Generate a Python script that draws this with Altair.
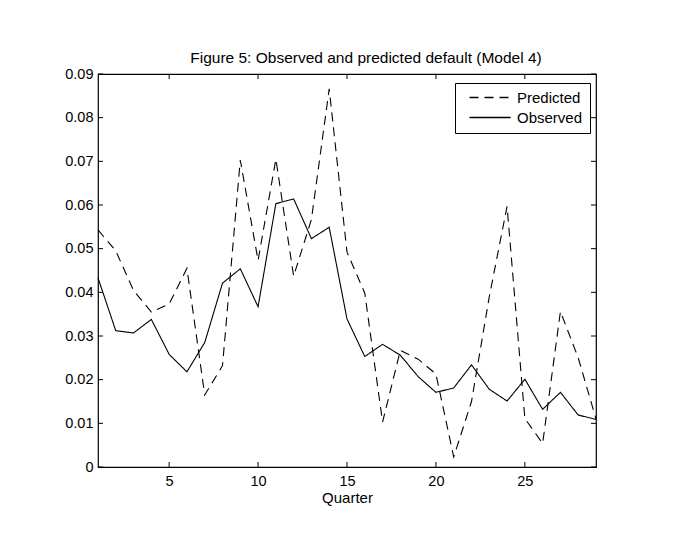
import altair as alt
import pandas as pd

quarters = list(range(1, 30))
observed = [0.0433, 0.0312, 0.0307, 0.0338, 0.0258, 0.0218, 0.0285, 0.0421, 0.0454, 0.0367,
            0.0603, 0.0614, 0.0523, 0.0549, 0.0339, 0.0253, 0.0281, 0.0256, 0.0207, 0.0171,
            0.0181, 0.0234, 0.0178, 0.0151, 0.0201, 0.0132, 0.0171, 0.0119, 0.0109]
predicted = [0.0543, 0.0495, 0.0404, 0.0355, 0.0373, 0.0455, 0.0165, 0.0232, 0.0703, 0.0473,
             0.0705, 0.0437, 0.0567, 0.0866, 0.0492, 0.0398, 0.0103, 0.0267, 0.0247, 0.0213,
             0.0023, 0.0150, 0.0390, 0.0597, 0.0111, 0.0054, 0.0356, 0.0250, 0.0110]
series_names = ["Predicted", "Observed"]
x_ticks = [5, 10, 15, 20, 25]
y_ticks = [0, 0.01, 0.02, 0.03, 0.04, 0.05, 0.06, 0.07, 0.08, 0.09]

W, H = 498, 393
TL = 5
FONT = "Liberation Sans"

df = pd.DataFrame({
    "Quarter": quarters * 2,
    "value": predicted + observed,
    "series": ["Predicted"] * len(quarters) + ["Observed"] * len(quarters),
})
xt = pd.DataFrame({"t": x_ticks})
yt = pd.DataFrame({"t": y_ticks})

xscale = alt.Scale(domain=[1, 29], nice=False, zero=False)
yscale = alt.Scale(domain=[0, 0.09], nice=False, zero=False)

lines = alt.Chart(df).mark_line(color="black", strokeWidth=1.1).encode(
    x=alt.X("Quarter:Q", scale=xscale,
            axis=alt.Axis(values=x_ticks, title="Quarter", ticks=False, domain=False,
                          grid=False, labelPadding=7, titlePadding=3,
                          labelFont=FONT, labelFontSize=14.5, labelColor="black",
                          titleFont=FONT, titleFontSize=15, titleFontWeight="normal",
                          titleColor="black")),
    y=alt.Y("value:Q", scale=yscale,
            axis=alt.Axis(values=y_ticks, title=None, ticks=False, domain=False, grid=False,
                          labelPadding=5, labelFont=FONT, labelFontSize=14.5, labelColor="black",
                          labelExpr="datum.value == 0 ? '0' : format(datum.value, '.2f')")),
    strokeDash=alt.StrokeDash(
        "series:N",
        scale=alt.Scale(domain=series_names, range=[[9, 6], [1, 0]]),
        sort=series_names,
        legend=alt.Legend(title=None, orient="none", legendX=357, legendY=9,
                          strokeColor="black", fillColor="white", padding=7,
                          symbolType="M0,0H8.4", symbolSize=96, symbolStrokeWidth=1.3,
                          symbolStrokeColor="black", labelFontSize=15, labelOffset=40,
                          rowPadding=4, labelFont=FONT, labelColor="black"),
    ),
)

bottom_ticks = alt.Chart(xt).mark_rule(color="black", strokeWidth=1).encode(
    x=alt.X("t:Q", scale=xscale), y=alt.value(H), y2=alt.value(H - TL))
top_ticks = alt.Chart(xt).mark_rule(color="black", strokeWidth=1).encode(
    x=alt.X("t:Q", scale=xscale), y=alt.value(0), y2=alt.value(TL))
left_ticks = alt.Chart(yt).mark_rule(color="black", strokeWidth=1).encode(
    y=alt.Y("t:Q", scale=yscale), x=alt.value(0), x2=alt.value(TL))
right_ticks = alt.Chart(yt).mark_rule(color="black", strokeWidth=1).encode(
    y=alt.Y("t:Q", scale=yscale), x=alt.value(W - TL), x2=alt.value(W))

chart = alt.layer(lines, bottom_ticks, top_ticks, left_ticks, right_ticks).properties(
    width=W, height=H,
    title=alt.TitleParams("Figure 5: Observed and predicted default (Model 4)",
                          fontSize=15.5, font=FONT, fontWeight="normal",
                          color="black", offset=0, dx=19),
    autosize=alt.AutoSizeParams(type="none"),
    padding={"left": 90, "top": 66, "right": 60, "bottom": 50},
    background="white",
).configure_view(stroke="black", strokeWidth=1.2)

chart.save("out.html", embed_options={"renderer": "svg", "actions": False})
